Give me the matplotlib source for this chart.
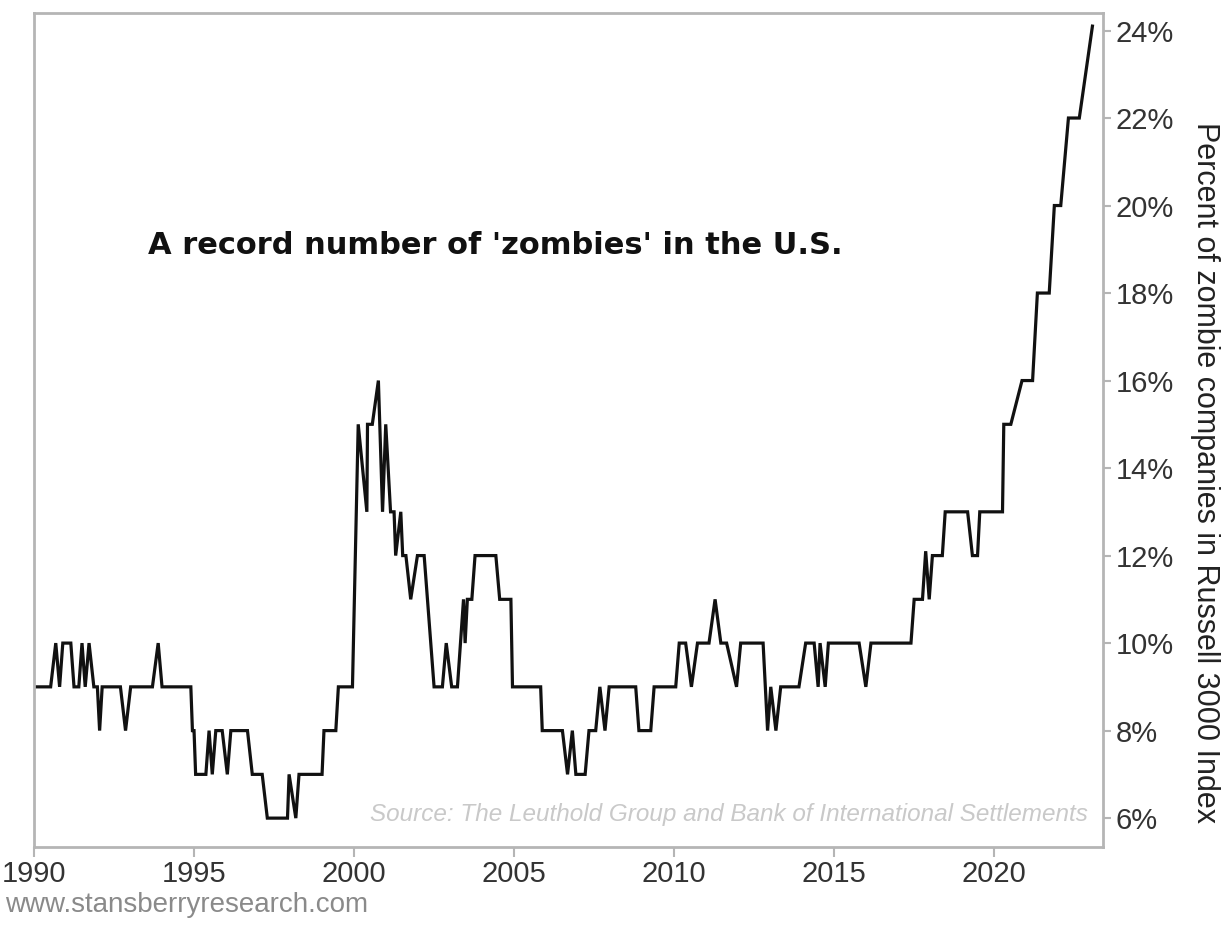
import matplotlib
matplotlib.use("Agg")
import matplotlib.pyplot as plt

years = [1990.0, 1990.52, 1990.68, 1990.80, 1990.90, 1991.15, 1991.25, 1991.40, 1991.50, 1991.60,
         1991.72, 1991.87, 1991.98, 1992.05, 1992.13, 1992.70, 1992.86, 1993.02, 1993.70, 1993.88,
         1994.00, 1994.90, 1994.95, 1995.00, 1995.05, 1995.37, 1995.47, 1995.57, 1995.68, 1995.88,
         1996.04, 1996.15, 1996.67, 1996.82, 1997.13, 1997.29, 1997.92, 1997.97, 1998.18, 1998.28,
         1999.00, 1999.06, 1999.43, 1999.51, 1999.95, 2000.13, 2000.40, 2000.42, 2000.57, 2000.76,
         2000.89, 2000.99, 2001.14, 2001.25, 2001.30, 2001.46, 2001.52, 2001.62, 2001.77, 2001.98,
         2002.19, 2002.50, 2002.76, 2002.88, 2003.05, 2003.23, 2003.42, 2003.47, 2003.54, 2003.68,
         2003.78, 2004.43, 2004.55, 2004.90, 2004.95, 2005.83, 2005.88, 2006.51, 2006.67, 2006.82,
         2006.93, 2007.22, 2007.34, 2007.55, 2007.68, 2007.84, 2007.97, 2008.80, 2008.90, 2009.27,
         2009.375, 2010.05, 2010.16, 2010.36, 2010.54, 2010.73, 2011.09, 2011.28, 2011.46, 2011.64,
         2011.95, 2012.08, 2012.78, 2012.92, 2013.02, 2013.18, 2013.33, 2013.90, 2014.11, 2014.375,
         2014.50, 2014.56, 2014.72, 2014.82, 2015.78, 2015.99, 2016.15, 2017.40, 2017.50, 2017.76,
         2017.86, 2017.97, 2018.07, 2018.38, 2018.47, 2019.17, 2019.32, 2019.48, 2019.55, 2020.26,
         2020.30, 2020.52, 2020.87, 2021.20, 2021.35, 2021.72, 2021.88, 2022.08, 2022.32, 2022.66,
         2023.07]
zombie_pct = [9, 9, 10, 9, 10, 10, 9, 9, 10, 9,
              10, 9, 9, 8, 9, 9, 8, 9, 9, 10,
              9, 9, 8, 8, 7, 7, 8, 7, 8, 8,
              7, 8, 8, 7, 7, 6, 6, 7, 6, 7,
              7, 8, 8, 9, 9, 15, 13, 15, 15, 16,
              13, 15, 13, 13, 12, 13, 12, 12, 11, 12,
              12, 9, 9, 10, 9, 9, 11, 10, 11, 11,
              12, 12, 11, 11, 9, 9, 8, 8, 7, 8,
              7, 7, 8, 8, 9, 8, 9, 9, 8, 8,
              9, 9, 10, 10, 9, 10, 10, 11, 10, 10,
              9, 10, 10, 8, 9, 8, 9, 9, 10, 10,
              9, 10, 9, 10, 10, 9, 10, 10, 11, 11,
              12.1, 11, 12, 12, 13, 13, 12, 12, 13, 13,
              15, 15, 16, 16, 18, 18, 20, 20, 22, 22,
              24.1]

x_ticks = [1990, 1995, 2000, 2005, 2010, 2015, 2020]
y_ticks = [6, 8, 10, 12, 14, 16, 18, 20, 22, 24]
y_tick_labels = [f"{v}%" for v in y_ticks]

title_text = "A record number of 'zombies' in the U.S."
source_text = "Source: The Leuthold Group and Bank of International Settlements"
url_text = "www.stansberryresearch.com"
ylabel_text = "Percent of zombie companies in Russell 3000 Index"

sans = ["Liberation Sans", "DejaVu Sans"]
W, H = 1227, 944

fig = plt.figure(figsize=(12.27, 9.44), dpi=100)
ax = fig.add_axes([34/W, 1 - 847/H, (1103 - 34)/W, (847 - 13)/H])

ax.plot(years, zombie_pct, color="#111111", lw=2.3, solid_joinstyle="miter")

ax.set_xlim(1990, 2023.4)
ax.set_ylim(5.34, 24.4)

for s in ax.spines.values():
    s.set_color("#b5b5b5")
    s.set_linewidth(2)

ax.set_xticks(x_ticks)
ax.set_xticklabels([str(t) for t in x_ticks], family=sans, fontsize=21, color="#333333")
ax.yaxis.tick_right()
ax.set_yticks(y_ticks)
ax.set_yticklabels(y_tick_labels, family=sans, fontsize=21, color="#333333")
ax.tick_params(axis="x", direction="out", length=7, width=1.5, color="#b5b5b5", pad=2)
ax.tick_params(axis="y", direction="out", length=6, width=1.5, color="#b5b5b5", pad=3)

fig.text(1205/W, 1 - 472/H, ylabel_text, rotation=270, fontsize=22, family=sans,
         color="#222222", ha="center", va="center")

fig.text(148/W, 1 - 245/H, title_text, fontsize=22, fontweight="bold",
         family="DejaVu Sans", color="#111111", va="center", ha="left")

fig.text(1088/W, 1 - 815/H, source_text, fontsize=17.5, style="italic", family=sans,
         color="#c9c9c9", ha="right", va="center")
fig.text(5/W, 1 - 905/H, url_text, fontsize=20, family=sans, color="#8a8a8a",
         ha="left", va="center")

fig.savefig("out.png", dpi=100)
